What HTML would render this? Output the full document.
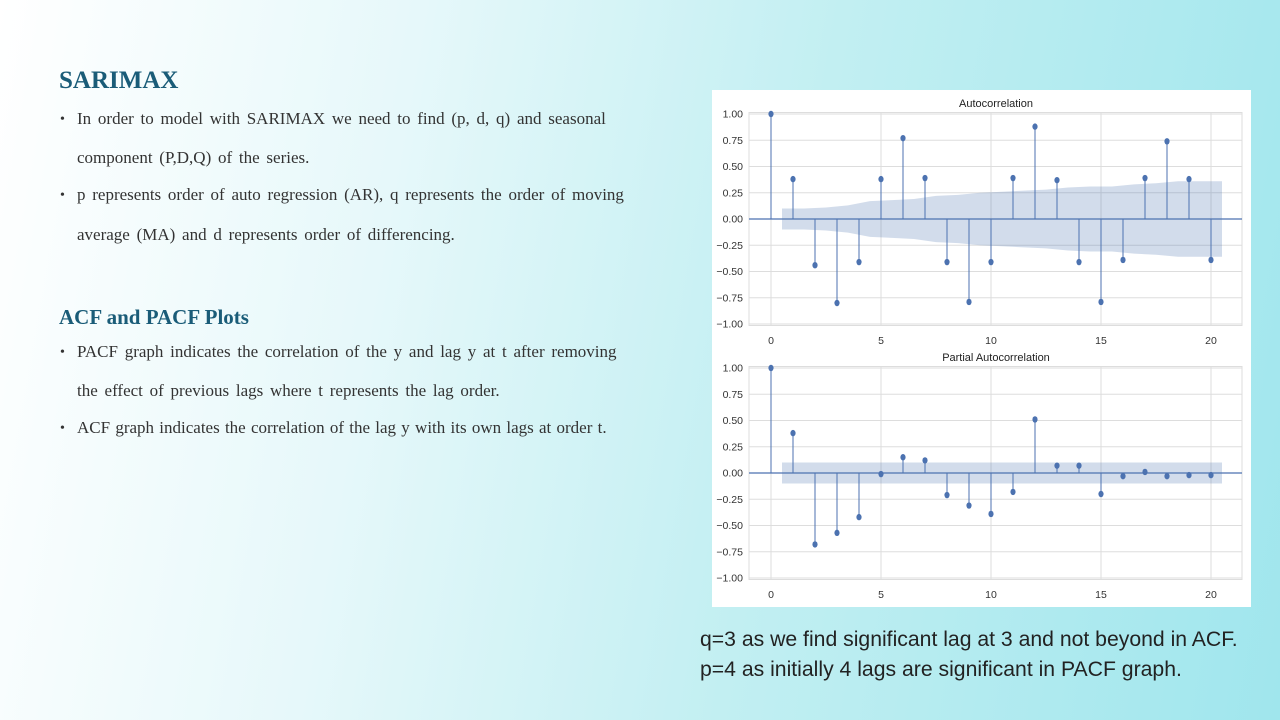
<!DOCTYPE html>
<html><head><meta charset="utf-8">
<style>
html,body{margin:0;padding:0}
body{width:1280px;height:720px;position:relative;overflow:hidden;
background:linear-gradient(100deg,#ffffff 0%,#e6f8fa 30%,#c2eff2 60%,#a0e6ed 100%);
font-family:"Liberation Serif",serif;color:#333}
.t{position:absolute;white-space:nowrap}
.h{color:#1a5c78;font-weight:bold}
.b{font-size:17px;word-spacing:2.5px}
.bul{position:absolute;font-size:14px}
.bt{font-family:"Liberation Sans",sans-serif;font-size:21.2px;color:#222}
</style></head><body>
<div class="t h" style="left:59px;top:67px;font-size:25px">SARIMAX</div>
<div class="bul" style="left:60px;top:112px">•</div>
<div class="t b" style="left:77px;top:109px">In order to model with SARIMAX we need to find (p, d, q) and seasonal</div>
<div class="t b" style="left:77px;top:148px">component (P,D,Q) of the series.</div>
<div class="bul" style="left:60px;top:188px">•</div>
<div class="t b" style="left:77px;top:185px">p represents order of auto regression (AR), q represents the order of moving</div>
<div class="t b" style="left:77px;top:225px">average (MA) and d represents order of differencing.</div>
<div class="t h" style="left:59px;top:305px;font-size:21px">ACF and PACF Plots</div>
<div class="bul" style="left:60px;top:345px">•</div>
<div class="t b" style="left:77px;top:342px">PACF graph indicates the correlation of the y and lag y at t after removing</div>
<div class="t b" style="left:77px;top:381px">the effect of previous lags where t represents the lag order.</div>
<div class="bul" style="left:60px;top:421px">•</div>
<div class="t b" style="left:77px;top:418px;word-spacing:1px">ACF graph indicates the correlation of the lag y with its own lags at order t.</div>
<div class="t bt" style="left:700px;top:628px">q=3 as we find significant lag at 3 and not beyond in ACF.</div>
<div class="t bt" style="left:700px;top:658px">p=4 as initially 4 lags are significant in PACF graph.</div>

<svg id="chart" width="1280" height="720" style="position:absolute;left:0;top:0">
<rect x="712" y="90" width="539" height="517" fill="#fff"/>
</svg>
<script>
const lags=[0,1,2,3,4,5,6,7,8,9,10,11,12,13,14,15,16,17,18,19,20];
const acfValues=[1,0.38,-0.44,-0.80,-0.41,0.38,0.77,0.39,-0.41,-0.79,-0.41,0.39,0.88,0.37,-0.41,-0.79,-0.39,0.39,0.74,0.38,-0.39];
const acfConf=[0.10,0.10,0.11,0.13,0.17,0.18,0.19,0.22,0.23,0.25,0.26,0.27,0.28,0.30,0.31,0.31,0.33,0.34,0.36,0.36,0.36];
const pacfValues=[1,0.38,-0.68,-0.57,-0.42,-0.01,0.15,0.12,-0.21,-0.31,-0.39,-0.18,0.51,0.07,0.07,-0.20,-0.03,0.01,-0.03,-0.02,-0.02];
const pacfConf=[0.10,0.10,0.10,0.10,0.10,0.10,0.10,0.10,0.10,0.10,0.10,0.10,0.10,0.10,0.10,0.10,0.10,0.10,0.10,0.10,0.10];
const yTicks=[1,0.75,0.5,0.25,0,-0.25,-0.5,-0.75,-1];
const yTickLabels=["1.00","0.75","0.50","0.25","0.00","\u22120.25","\u22120.50","\u22120.75","\u22121.00"];
const xTicks=[0,5,10,15,20];
const NS="http://www.w3.org/2000/svg";
const svg=document.getElementById('chart');
const xs=v=>771+v*22;
function mk(tag,attrs,parent){const e=document.createElementNS(NS,tag);for(const k in attrs)e.setAttribute(k,attrs[k]);(parent||svg).appendChild(e);return e;}
function panel(name,title,top,vals,conf){
  const ys=v=>top+105*(1-v);
  const g=mk('g',{});
  
  
  const frame=mk('rect',{x:749,y:top-1.5,width:493,height:213,fill:'#fff',stroke:'#ddd','stroke-width':1},g);
  
  
  yTicks.forEach((t,i)=>{
    const l=mk('line',{x1:749,x2:1242,y1:ys(t),y2:ys(t),stroke:'#ddd','stroke-width':1},g);
    
    
    const tx=mk('text',{x:743,y:ys(t)+3.5,'text-anchor':'end','font-size':10.5,'font-family':'Liberation Sans, sans-serif',fill:'#333'},g);
    tx.textContent=yTickLabels[i];
    
    
  });
  xTicks.forEach(t=>{
    const l=mk('line',{x1:xs(t),x2:xs(t),y1:top-1.5,y2:top+211.5,stroke:'#ddd','stroke-width':1},g);
    
    
    const tx=mk('text',{x:xs(t),y:top+230,'text-anchor':'middle','font-size':10.5,'font-family':'Liberation Sans, sans-serif',fill:'#333'},g);
    tx.textContent=String(t);
    
    
  });
  let up='',dn='';
  conf.forEach((c,i)=>{const x=xs(i+0.5);up+=(i?'L':'M')+x+','+ys(c);});
  for(let i=conf.length-1;i>=0;i--){dn+='L'+xs(i+0.5)+','+ys(-conf[i]);}
  const band=mk('path',{d:up+dn+'Z',fill:'#4c72b0','fill-opacity':0.25,stroke:'none'},g);
  
  
  const z=mk('line',{x1:749,x2:1242,y1:ys(0),y2:ys(0),stroke:'#4c72b0','stroke-width':1.3},g);
  
  
  vals.forEach((v,i)=>{
    const s=mk('line',{x1:xs(lags[i]),x2:xs(lags[i]),y1:ys(0),y2:ys(v),stroke:'#4c72b0','stroke-width':1},g);
    
    
    const c=mk('ellipse',{cx:xs(lags[i]),cy:ys(v),rx:2.6,ry:3.2,fill:'#4c72b0'},g);
    
    
  });
  const tt=mk('text',{x:996,y:top-7,'text-anchor':'middle','font-size':11,'font-family':'Liberation Sans, sans-serif',fill:'#222'},g);
  tt.textContent=title;
  
  
}
panel('acf-plot','Autocorrelation',114,acfValues,acfConf);
panel('pacf-plot','Partial Autocorrelation',368,pacfValues,pacfConf);
</script>
</body></html>
